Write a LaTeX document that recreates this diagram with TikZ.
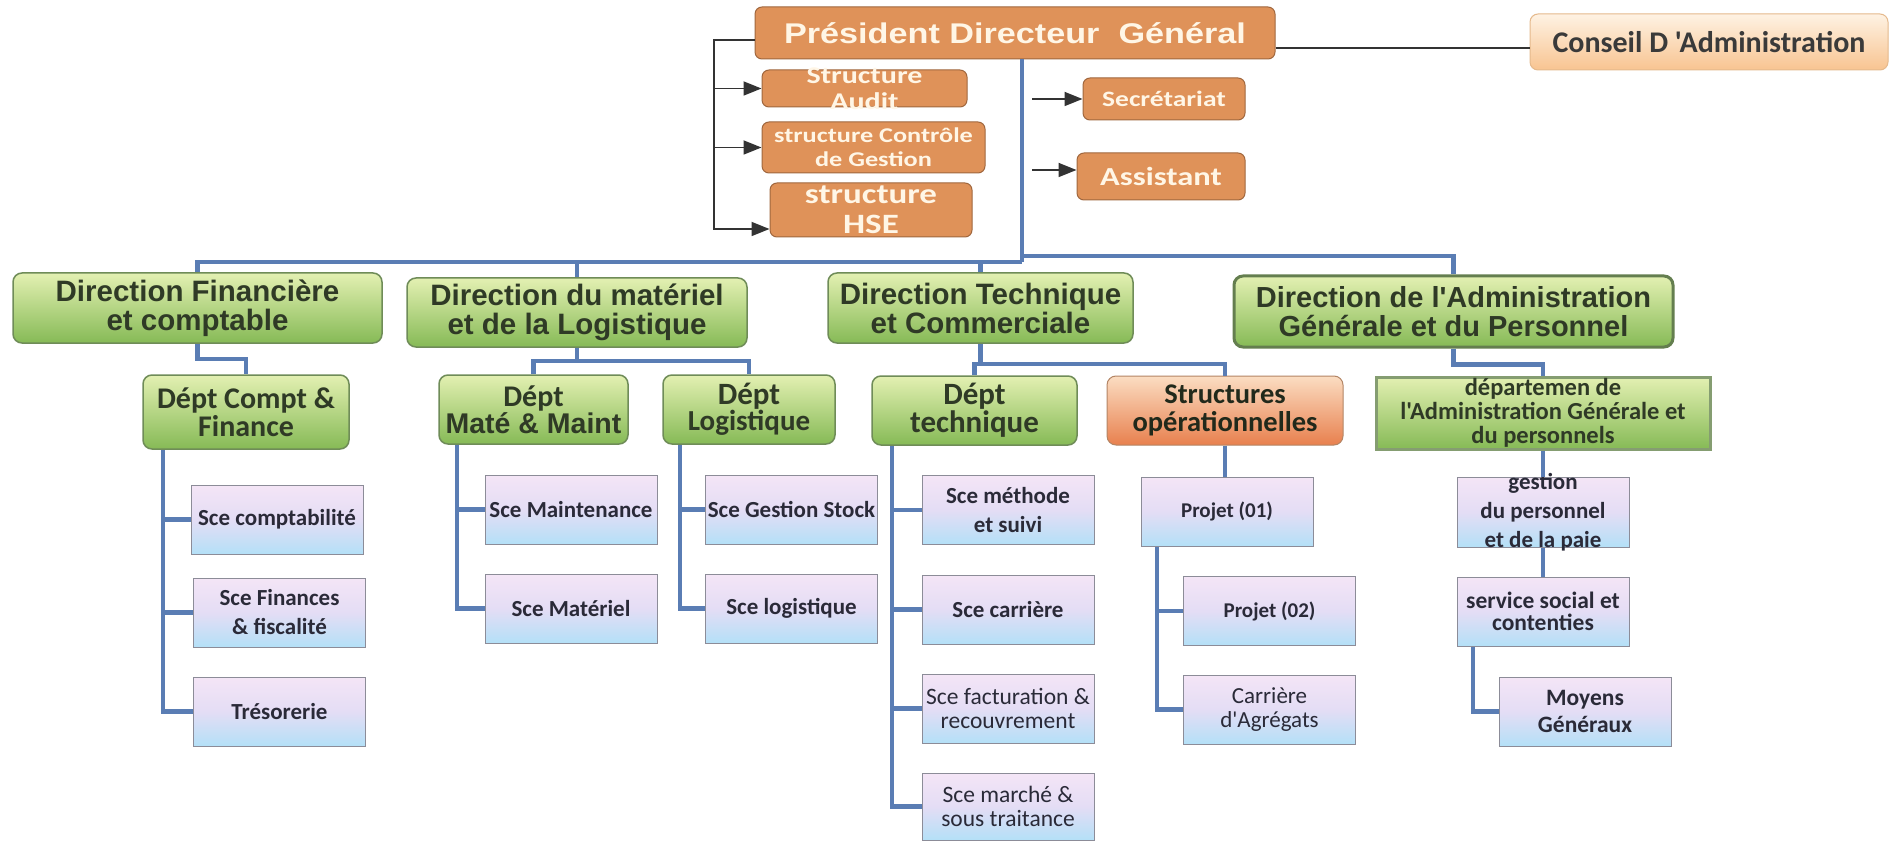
\documentclass[tikz,border=0pt]{standalone}
\usepackage{fontspec}
\usetikzlibrary{arrows.meta,calc}
\newfontfamily\fA{Liberation Sans}
\newfontfamily\fAw[FakeStretch=1.2]{Liberation Sans}
\newfontfamily\fC{Carlito}
\newfontfamily\fCw[FakeStretch=1.25]{Carlito}
\newcommand\fs[2]{\fontsize{#1}{#2}\selectfont}
\definecolor{orgF}{HTML}{DF9259}
\definecolor{orgD}{HTML}{A0673E}
\definecolor{orgT}{HTML}{FFF6E6}
\definecolor{grT}{HTML}{E3F0B2}
\definecolor{grB}{HTML}{86BA56}
\definecolor{grD}{HTML}{6F8C58}
\definecolor{grTx}{HTML}{2F3A26}
\definecolor{sceT}{HTML}{F4E5F6}
\definecolor{sceM}{HTML}{E4DDF5}
\definecolor{sceB}{HTML}{B4E0F7}
\definecolor{sceD}{HTML}{8C8C98}
\definecolor{sceTx}{HTML}{2A2A38}
\definecolor{bl}{HTML}{5A7DB4}
\definecolor{arr}{HTML}{333333}
\definecolor{cnT}{HTML}{FEF2E3}
\definecolor{cnB}{HTML}{F8C491}
\definecolor{cnD}{HTML}{E5B98C}
\definecolor{soT}{HTML}{FBDDC2}
\definecolor{soB}{HTML}{E8804E}
\definecolor{cnTx}{HTML}{3A3A3A}
\tikzset{
  orangebox/.style={draw=orgD, line width=1pt, fill=orgF, rounded corners=7pt, text=orgT, inner sep=0pt, align=center},
  greenbox/.style={draw=grD, line width=1.5pt, top color=grT, bottom color=grB, rounded corners=9pt, text=grTx, align=center, inner sep=0pt},
  scebox/.style={draw=sceD, line width=1pt, top color=sceT, bottom color=sceB, middle color=sceM, text=sceTx, align=center, inner sep=0pt, minimum width=172pt, minimum height=69pt},
  scefont/.style={font=\fC\bfseries\fs{23}{29}},
  scereg/.style={font=\fC\fs{23.5}{24}},
  bluel/.style={draw=bl, line width=4.5pt},
  blk/.style={draw=arr, line width=1.8pt},
  blkarrow/.style={blk, -{Triangle[length=18pt,width=14pt]}}
}
\begin{document}
\begin{tikzpicture}[x=1pt,y=-1pt]
\fill[white] (0,0) rectangle (1901,842);
\useasboundingbox (0,0) rectangle (1901,842);

% ---------- top ----------
\node[orangebox, minimum width=520pt, minimum height=52pt, font=\fAw\bfseries\fs{28.5}{30}] (pdg) at (1015,33) {Président Directeur\ \ Général};
\node[draw=cnD, line width=1pt, top color=cnT, bottom color=cnB, rounded corners=8pt, minimum width=358pt, minimum height=56pt, inner sep=0pt, text=cnTx, font=\fC\bfseries\fs{30}{30}] (conseil) at (1709,42) {Conseil D 'Administration};

\node[orangebox, minimum width=205pt, minimum height=37pt, label={[font=\fCw\bfseries\fs{24}{26}, text=orgT, align=center]center:Structure\\Audit}] (audit) at (864.5,88.5) {};
\node[orangebox, minimum width=223pt, minimum height=51pt, font=\fCw\bfseries\fs{21}{24}] (controle) at (873.5,147.5) {structure Contrôle\\de Gestion};
\node[orangebox, minimum width=202pt, minimum height=54pt, label={[font=\fCw\bfseries\fs{28}{30}, text=orgT, align=center]center:structure\\HSE}] (hse) at (871,210) {};
\node[orangebox, minimum width=162pt, minimum height=42pt, font=\fCw\bfseries\fs{22}{24}] (secr) at (1164,99) {Secrétariat};
\node[orangebox, minimum width=168pt, minimum height=47pt, font=\fCw\bfseries\fs{26}{28}] (assist) at (1161,176.5) {Assistant};

% ---------- directions ----------
\node[greenbox, minimum width=369pt, minimum height=70pt, font=\fA\bfseries\fs{29.5}{29}] (d1) at (197.5,308) {Direction Financière\\et comptable};
\node[greenbox, minimum width=340pt, minimum height=69pt, font=\fA\bfseries\fs{29.5}{29}] (d2) at (577,312.5) {Direction du matériel\\et de la Logistique};
\node[greenbox, minimum width=305pt, minimum height=70pt, font=\fA\bfseries\fs{29.5}{29}] (d3) at (980.5,308) {Direction Technique\\et Commerciale};
\node[greenbox, draw=grD!90!black, line width=3pt, minimum width=439pt, minimum height=71pt, font=\fA\bfseries\fs{29}{29}] (d4) at (1453.5,311.5) {Direction de l'Administration\\Générale et du Personnel};

% ---------- departments ----------
\node[greenbox, minimum width=206pt, minimum height=74pt, font=\fC\bfseries\fs{30}{28}] (dcf) at (246,412) {Dépt Compt \&\\Finance};
\node[greenbox, minimum width=189pt, minimum height=69pt] (dmm) at (533.5,409.5) {{\fC\bfseries\fs{30}{32}Dépt}\\{\fA\bfseries\fs{28.5}{32}Maté \& Maint}};
\node[greenbox, minimum width=172pt, minimum height=69pt] (dlog) at (749,409.5) {{\fC\bfseries\fs{31}{29}Dépt}\\{\fC\bfseries\fs{29}{29}Logistique}};
\node[greenbox, minimum width=205pt, minimum height=69pt, font=\fC\bfseries\fs{31}{28}] (dtech) at (974.5,410.5) {Dépt\\technique};
\node[draw=orgD!80, line width=1pt, top color=soT, bottom color=soB, rounded corners=9pt, minimum width=236pt, minimum height=69pt, inner sep=0pt, align=center, text=grTx!70!black, font=\fC\bfseries\fs{28.5}{28}] (strop) at (1225,410.5) {Structures\\opérationnelles};
\node[draw=grD!85, line width=3pt, top color=grT, bottom color=grB, minimum width=334pt, minimum height=72pt, inner sep=0pt, align=center, text=grTx, font=\fC\bfseries\fs{24.5}{24}] (ddep) at (1543,413) {départemen de\\l'Administration Générale et\\du personnels};

% ---------- services ----------
\node[scebox, scefont] (sce1) at (277,519.5) {Sce comptabilité};
\node[scebox, scefont] (sce2) at (279.5,612.5) {Sce Finances\\\& fiscalité};
\node[scebox, scefont] (sce3) at (279.5,711.5) {Trésorerie};

\node[scebox, scefont] (sm1) at (571,509.5) {Sce Maintenance};
\node[scebox, scefont] (sm2) at (571,608.5) {Sce Matériel};
\node[scebox, scefont] (sl1) at (791.5,509.5) {Sce Gestion Stock};
\node[scebox, scefont] (sl2) at (791.5,608.5) {Sce logistique};

\node[scebox, scefont] (st1) at (1008,510) {Sce méthode\\et suivi};
\node[scebox, scefont] (st2) at (1008,609.5) {Sce carrière};
\node[scebox, scereg] (st3) at (1008,708.5) {Sce facturation \&\\recouvrement};
\node[scebox, scereg, minimum height=67pt] (st4) at (1008,806.5) {Sce marché \&\\sous traitance};

\node[scebox, font=\fC\bfseries\fs{21}{24}] (p1) at (1227,511.5) {Projet (01)};
\node[scebox, font=\fC\bfseries\fs{21}{24}] (p2) at (1269.5,611) {Projet (02)};
\node[scebox, font=\fC\fs{23}{24}] (p3) at (1269.5,709.5) {Carrière\\d'Agrégats};

\node[scebox, minimum height=70pt, label={[font=\fC\bfseries\fs{23}{29}, text=sceTx, align=center]center:gestion\\du personnel\\et de la paie}] (g1) at (1543,512) {};
\node[scebox, font=\fC\bfseries\fs{23.5}{22}] (g2) at (1543,611.5) {service social et\\contenties};
\node[scebox, font=\fC\bfseries\fs{23.5}{27}] (g3) at (1585,711.5) {Moyens\\Généraux};

% ---------- black connectors ----------
\coordinate (bk) at (714,40);
\draw[blkarrow] ([yshift=-7pt]pdg.west) -- (bk) |- ([yshift=-19pt]hse.west);
\draw[blkarrow] (bk |- audit.west) -- (audit.west);
\draw[blkarrow] (bk |- controle.west) -- (controle.west);
\coordinate (sa) at (1032,99);
\coordinate (sb) at (1032,170);
\draw[blkarrow] (sa) -- (secr.west);
\draw[blkarrow] (sb) -- (sb -| assist.west);
\draw[blk, line width=1.3pt] ([yshift=-15pt]pdg.east) -- ([yshift=-15pt]pdg.east -| conseil.west);

% ---------- blue connectors ----------
\coordinate (bus) at (1022,262);
\coordinate (busr) at (1022,256);
\draw[bluel] ([xshift=7pt]pdg.south) -- (bus);
\draw[bluel] (d1.north) |- (bus);
\draw[bluel] (d2.north) -- (d2.north |- bus);
\draw[bluel] (d3.north) -- (d3.north |- bus);
\draw[bluel] (busr) -| (d4.north);

\draw[bluel] (d1.south) -- ++(0,15) -| (dcf.north);
\draw[bluel] (d2.south) -- ++(0,13) coordinate (j2);
\draw[bluel] (dmm.north) |- (j2) -| (dlog.north);
\draw[bluel] (d3.south) -- ++(0,20) coordinate (j3);
\draw[bluel] (dtech.north) |- (j3) -| (strop.north);
\draw[bluel] (d4.south) -- ++(0,16) -| (ddep.north);

\coordinate (t1) at ([xshift=-83pt]dcf.south);
\draw[bluel] (t1) |- (sce3.west);
\draw[bluel] (t1 |- sce1.west) -- (sce1.west);
\draw[bluel] (t1 |- sce2.west) -- (sce2.west);

\coordinate (t2) at ([xshift=-76.5pt]dmm.south);
\draw[bluel] (t2) |- (sm2.west);
\draw[bluel] (t2 |- sm1.west) -- (sm1.west);
\coordinate (t3) at ([xshift=-69pt]dlog.south);
\draw[bluel] (t3) |- (sl2.west);
\draw[bluel] (t3 |- sl1.west) -- (sl1.west);

\coordinate (t4) at ([xshift=-82.5pt]dtech.south);
\draw[bluel] (t4) |- (st4.west);
\draw[bluel] (t4 |- st1.west) -- (st1.west);
\draw[bluel] (t4 |- st2.west) -- (st2.west);
\draw[bluel] (t4 |- st3.west) -- (st3.west);

\draw[bluel] (strop.south) -- (strop.south |- p1.north);
\coordinate (t5) at ([xshift=-70pt]p1.south);
\draw[bluel] (t5) |- (p3.west);
\draw[bluel] (t5 |- p2.west) -- (p2.west);

\draw[bluel] (ddep.south) -- (g1.north);
\draw[bluel] (g1.south) -- (g2.north);
\coordinate (t6) at ([xshift=-70pt]g2.south);
\draw[bluel] (t6) |- (g3.west);
\end{tikzpicture}
\end{document}
